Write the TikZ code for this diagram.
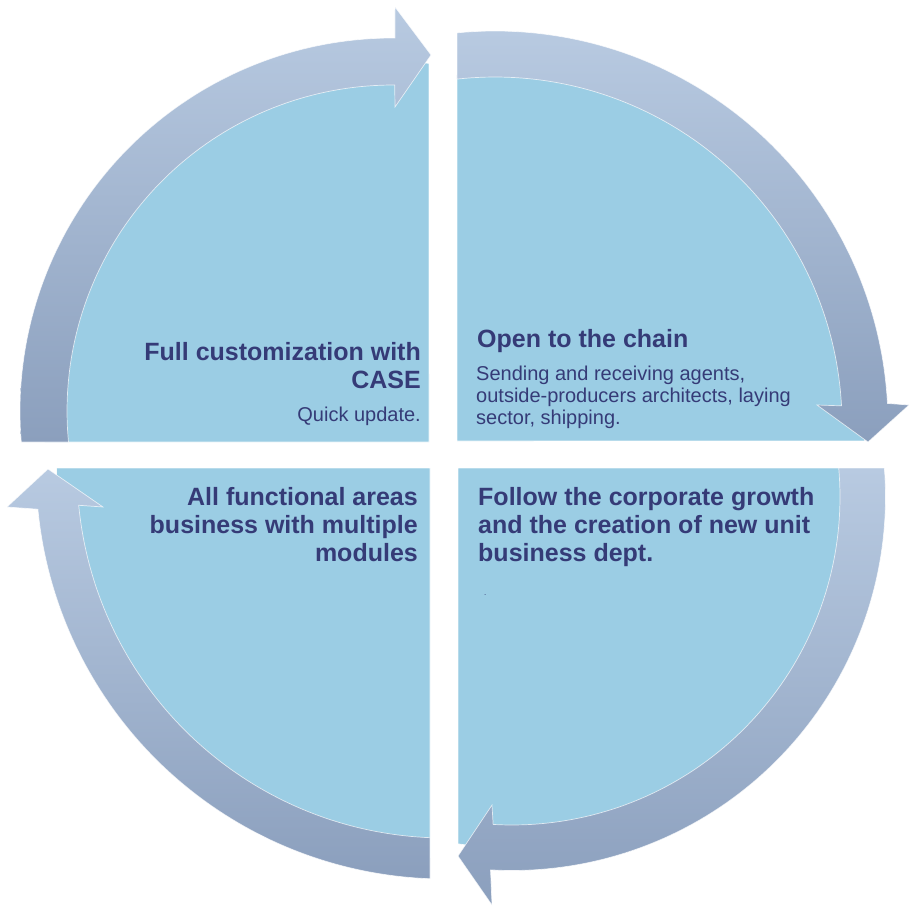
\documentclass[tikz,border=0pt]{standalone}
\usepackage{fontspec}
\setmainfont{Liberation Sans}
\definecolor{quadfill}{HTML}{9BCDE4}
\definecolor{arrowlight}{HTML}{B8CAE1}
\definecolor{arrowdark}{HTML}{8B9FBD}
\definecolor{txt}{HTML}{353B77}
\tikzset{
  quad/.style={fill=quadfill, draw=white, line width=0.7, draw opacity=0.8},
  cyclearrow/.style={top color=arrowlight, bottom color=arrowdark, draw=white, line width=0.7, draw opacity=0.7},
  title/.style={font=\fontsize{25bp}{28bp}\selectfont\bfseries, text=txt, inner sep=0pt},
  body/.style={font=\fontsize{20bp}{22bp}\selectfont, text=txt, inner sep=0pt},
  tinydot/.style={font=\fontsize{8bp}{8bp}\selectfont, text=txt, inner sep=0pt},
}
\begin{document}
\begin{tikzpicture}[x=1bp,y=-1bp]
\useasboundingbox (0,0) rectangle (910,907);

% ---- quadrant fills ----
\path[quad] (429,442) -- plot[domain=174.9:275.91, samples=80, variable=\t] ({393+349.5*cos(\t)},{411+349.5*sin(\t)}) -- cycle;
\path[quad] (457,441) -- plot[domain=264.11:362.63, samples=80, variable=\t] ({495+370*cos(\t)},{424+370*sin(\t)}) -- cycle;
\path[quad] (458,468) -- plot[domain=-4.74:98.85, samples=80, variable=\t] ({512+351*cos(\t)},{497+351*sin(\t)}) -- cycle;
\path[quad] (430,468) -- plot[domain=92.21:180.29, samples=80, variable=\t] ({445+388.5*cos(\t)},{470+388.5*sin(\t)}) -- cycle;

% ---- circular arrows ----
% top-left (upwards to the right)
\path[cyclearrow] plot[domain=175.23:270.3, samples=80, variable=\t] ({393+373*cos(\t)},{411+373*sin(\t)})
  -- (395,7) -- (431,55) -- (395,107)
  -- plot[domain=270.3:174.54, samples=80, variable=\t] ({393+326*cos(\t)},{411+326*sin(\t)}) -- cycle;
% top-right (downwards)
\path[cyclearrow] plot[domain=264.45:357, samples=80, variable=\t] ({495+393*cos(\t)},{424+393*sin(\t)})
  -- (909,405) -- (868,442) -- (817,405)
  -- plot[domain=357:263.71, samples=80, variable=\t] ({495+347*cos(\t)},{424+347*sin(\t)}) -- cycle;
% bottom-right (to the left)
\path[cyclearrow] plot[domain=-4.453:93.3, samples=80, variable=\t] ({512+373.5*cos(\t)},{497+373.5*sin(\t)})
  -- (492,905) -- (458,856) -- (492,805)
  -- plot[domain=93.3:-5.072, samples=80, variable=\t] ({512+328*cos(\t)},{497+328*sin(\t)}) -- cycle;
% bottom-left (upwards)
\path[cyclearrow] plot[domain=92.10:174.5, samples=80, variable=\t] ({445+409*cos(\t)},{470+409*sin(\t)})
  -- (7,507) -- (48,469) -- (103,507)
  -- plot[domain=174.5:92.34, samples=80, variable=\t] ({445+368*cos(\t)},{470+368*sin(\t)}) -- cycle;

% ---- texts ----
\node[title, anchor=base east] (tl1) at (421,360) {Full customization with};
\node[title, anchor=base east] (tl2) at (421,388) {CASE};
\node[body, anchor=base east] (tl3) at (421,421) {Quick update.};

\node[title, anchor=base west] (tr1) at (477,347) {Open to the chain};
\node[body, anchor=base west] (tr2) at (476,380) {Sending and receiving agents,};
\node[body, anchor=base west] (tr3) at (476,402) {outside-producers architects, laying};
\node[body, anchor=base west] (tr4) at (476,424) {sector, shipping.};

\node[title, anchor=base east] (bl1) at (418,505) {All functional areas};
\node[title, anchor=base east] (bl2) at (418,533) {business with multiple};
\node[title, anchor=base east] (bl3) at (418,561) {modules};

\node[title, anchor=base west] (br1) at (478,505) {Follow the corporate growth};
\node[title, anchor=base west] (br2) at (478,533) {and the creation of new unit};
\node[title, anchor=base west] (br3) at (478,561) {business dept.};
\node[tinydot, anchor=base west] (br4) at (484,595) {.};
\end{tikzpicture}
\end{document}
